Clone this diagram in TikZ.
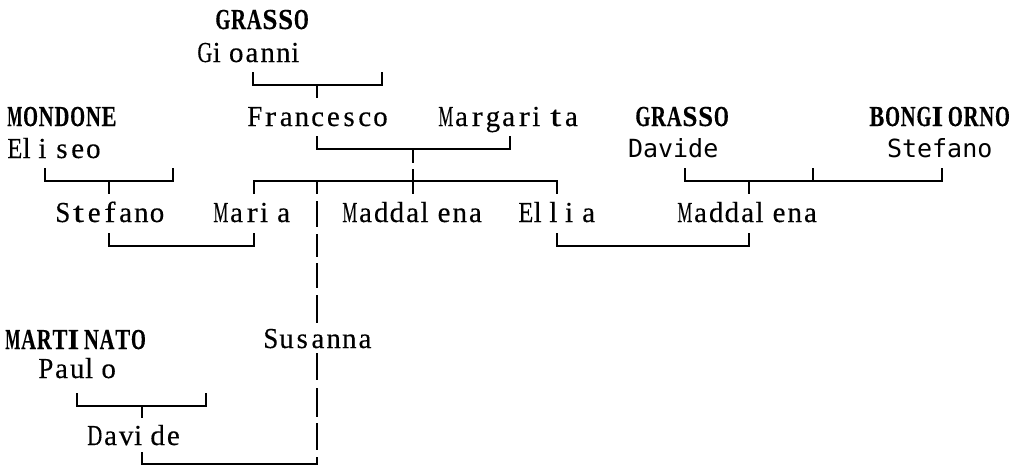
\documentclass[tikz,border=0pt]{standalone}
\usepackage{fontspec}
\newfontfamily\serifmono[FakeBold=0.35]{Liberation Serif}
\newfontfamily\sansmono{DejaVu Sans Mono}
\ExplSyntaxOn
\dim_new:N \l_fam_cell_dim
\dim_new:N \l_fam_max_dim
\dim_new:N \l_fam_min_dim
\dim_set:Nn \l_fam_cell_dim {15.7pt}
\dim_set:Nn \l_fam_max_dim {14.9pt}
\dim_set:Nn \l_fam_min_dim {11pt}
\box_new:N \l_fam_char_box
\cs_new_protected:Npn \fam_fit:n #1
 {
  \box_resize_to_wd_and_ht:Nnn \l_fam_char_box { #1 } { \box_ht:N \l_fam_char_box }
 }
\NewDocumentCommand \mono { m }
 {
  \tl_map_inline:nn {#1}
   {
    \hbox_set:Nn \l_fam_char_box {##1}
    \tl_if_in:nnTF { ilIj } {##1}
     {
      \hbox_to_wd:nn { \l_fam_cell_dim } { \box_use:N \l_fam_char_box \hfil }
     }
     {
      \dim_compare:nNnTF { \box_wd:N \l_fam_char_box } > { \l_fam_max_dim }
       { \fam_fit:n { \l_fam_max_dim } }
       {
        \dim_compare:nNnT { \box_wd:N \l_fam_char_box } < { \l_fam_min_dim }
         { \fam_fit:n { \l_fam_min_dim } }
       }
      \hbox_to_wd:nn { \l_fam_cell_dim } { \hfil \box_use:N \l_fam_char_box \hfil }
     }
   }
 }
\ExplSyntaxOff
\tikzset{
  pname/.style={anchor=base west, inner sep=0pt, outer sep=0pt,
    font=\serifmono\fontsize{29}{31}\selectfont},
  surname/.style={pname, font=\serifmono\bfseries\fontsize{29}{31}\selectfont},
  sansname/.style={anchor=base west, inner sep=0pt, outer sep=0pt,
    font=\sansmono\fontsize{25}{27}\selectfont},
  link/.style={line width=1.8pt, line cap=butt, line join=miter}
}
\begin{document}
\begin{tikzpicture}[x=1pt,y=-1pt]
\useasboundingbox (0,0) rectangle (1015,469);
\fill[white] (0,0) rectangle (1015,469);

% names
\node[surname] (grassoG) at (215,29) {\mono{GRASSO}};
\node[pname] (gioanni) at (197,62) {\mono{Gioanni}};
\node[surname] (mondone) at (7,126) {\mono{MONDONE}};
\node[pname] (francesco) at (247,126) {\mono{Francesco}};
\node[pname] (margarita) at (438,126) {\mono{Margarita}};
\node[surname] (grassoD) at (635,126) {\mono{GRASSO}};
\node[surname] (bongiorno) at (869,126) {\mono{BONGIORNO}};
\node[pname] (eliseo) at (7,158) {\mono{Eliseo}};
\node[sansname] (davideG) at (628,157) {Davide};
\node[sansname] (stefanoB) at (887,157) {Stefano};
\node[pname] (stefanoM) at (55,222) {\mono{Stefano}};
\node[pname] (maria) at (213,222) {\mono{Maria}};
\node[pname] (maddalenaG) at (342,222) {\mono{Maddalena}};
\node[pname] (ellia) at (518,222) {\mono{Ellia}};
\node[pname] (maddalenaS) at (677,222) {\mono{Maddalena}};
\node[surname] (martinato) at (5,349) {\mono{MARTINATO}};
\node[pname] (susanna) at (263,348) {\mono{Susanna}};
\node[pname] (paulo) at (38,378) {\mono{Paulo}};
\node[pname] (davideM) at (87,445) {\mono{Davide}};

% junctions
\coordinate (gA) at (317,85);
\coordinate (fm) at (413,149);
\coordinate (me) at (109,181);
\coordinate (kids) at (413,181);
\coordinate (gb) at (749,181);
\coordinate (sm) at (254,246);
\coordinate (em) at (749,246);
\coordinate (pm) at (142,406);
\coordinate (ds) at (317,464);

% Gioanni -> Francesco
\draw[link] (253,72) |- (gA) -| (382,72);
\draw[link] (gA) -- (317,98);
% Francesco + Margarita -> children
\draw[link] (317,136) |- (fm) -| (510,136);
\draw[link] (fm) -- (413,163);
\draw[link] (413,169) -- (kids);
\draw[link] (254,194) |- (kids) -| (557,194);
\draw[link] (kids) -- (413,194);
% Eliseo -> Stefano
\draw[link] (45,168) |- (me) -| (173,168);
\draw[link] (me) -- (109,194);
% Davide + Stefano -> Maddalena
\draw[link] (685,168) |- (gb) -| (942,168);
\draw[link] (813,168) -- (813,181);
\draw[link] (gb) -- (749,194);
% marriages
\draw[link] (109,233) |- (sm) -- (254,233);
\draw[link] (557,233) |- (em) -- (749,233);
% Paulo -> Davide
\draw[link] (77,393) |- (pm) -| (206,393);
\draw[link] (pm) -- (142,418);
% Davide + Susanna
\draw[link] (142,452) |- (ds) -- (317,457);
% Susanna line
\draw[link, dash pattern=on 13pt off 7pt on 26pt off 7pt on 23pt off 6pt on 25pt off 7pt on 28pt off 60pt] (317,181) -- (317,323);
\draw[link, dash pattern=on 27pt off 8pt on 29pt off 6pt on 27pt off 40pt] (317,353) -- (317,450);
\end{tikzpicture}
\end{document}
